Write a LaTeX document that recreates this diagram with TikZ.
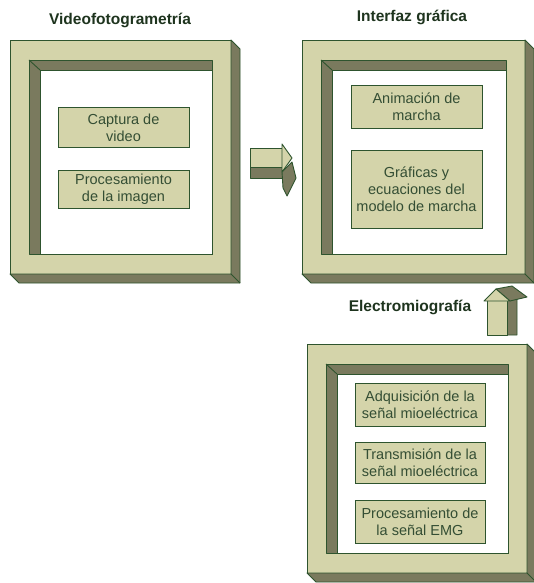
\documentclass[tikz,border=0pt]{standalone}
\usepackage{fontspec}
\setmainfont{Liberation Sans}
\usepackage{tikz}
\usepackage{xcolor}
\usetikzlibrary{calc}
\usetikzlibrary{positioning}

\definecolor{caqui}{RGB}{212,212,170}
\definecolor{sombra}{RGB}{122,122,94}
\definecolor{borde}{RGB}{46,84,46}
\definecolor{letra}{RGB}{52,78,52}
\definecolor{titulo}{RGB}{30,52,30}

\begin{document}
\begin{tikzpicture}[x=1pt,y=-1pt]
        \tikzstyle{marco}=[rectangle,draw=borde,line width=0.9pt,fill=caqui,outer sep=0pt,inner sep=0pt]
        \tikzstyle{caja}=[rectangle,draw=borde,line width=1pt,fill=caqui,text=letra,align=center,
                          inner sep=0pt,font=\fontsize{14.5}{17}\selectfont]
        \tikzstyle{titulo}=[text=titulo,font=\fontsize{15.5}{18}\selectfont\bfseries]
        \tikzstyle{cara}=[fill=sombra,draw=borde,line width=0.9pt,line join=round]
        \tikzstyle{frente}=[fill=caqui,draw=borde,line width=0.9pt,line join=round]
        \useasboundingbox (0,0) rectangle (534,583);
        \fill[white] (0,0) rectangle (534,583);
       % marcos
       \begin{scope}
         \node [marco,minimum width=221pt,minimum height=234pt] (vf) at (120.5,157) {};
         \node [marco,minimum width=223pt,minimum height=234pt] (ig) at (413.5,157) {};
         \node [marco,minimum width=220pt,minimum height=229pt] (emg) at (417,458.5) {};
         \foreach \m in {vf,ig,emg} {
           \path[cara] (\m.north east) -- ++(9,9) -- ($(\m.south east)+(9,9)$)
                 -- ($(\m.south west)+(9,9)$) -- (\m.south west) -- (\m.south east) -- cycle;
           \draw[borde,line width=0.9pt] (\m.south east) -- ++(9,9);
           \path[cara] ($(\m.north west)+(19,20)$) rectangle ($(\m.south east)+(-19,-20)$);
           \path[fill=white,draw=borde,line width=0.9pt] ($(\m.north west)+(30,30)$)
                 -| ($(\m.south east)+(-19,-20)$) -| cycle;
           \draw[borde,line width=0.9pt] ($(\m.north west)+(19,20)$) -- ($(\m.north west)+(30,30)$);
         }
       \end{scope}
       % titulos
       \node [titulo] (tvf) at (120,20) {Videofotogrametría};
       \node [titulo] (tig) at (412,17) {Interfaz gráfica};
       \node [titulo] (temg) at (410,307) {Electromiografía};
       % cajas
       \node [caja,minimum width=131pt,minimum height=39pt] (cap) at (123.5,127.5) {Captura de\\video};
       \node [caja,minimum width=131pt,minimum height=38pt] (img) at (123.5,189) {Procesamiento\\de la imagen};
       \node [caja,minimum width=131pt,minimum height=42pt] (ani) at (416.5,107) {Animación de\\marcha};
       \node [caja,minimum width=131pt,minimum height=78pt] (gra) at (416.5,189) {Gráficas y\\ecuaciones del\\modelo de marcha};
       \node [caja,minimum width=130pt,minimum height=43pt] (adq) at (420,404.5) {Adquisición de la\\señal mioeléctrica};
       \node [caja,minimum width=130pt,minimum height=41pt] (tra) at (420,462.5) {Transmisión de la\\señal mioeléctrica};
       \node [caja,minimum width=130pt,minimum height=43pt] (pro) at (420,521.5) {Procesamiento de\\la señal EMG};
       % flechas
       \coordinate (fd) at (250,148);
       \coordinate (fs) at (487,335);
       \path[cara] (fd) ++(0,19) rectangle ++(32,11);
       \path[frente] (fd) rectangle ++(32,19);
       \path[cara] (fd) ++(32,24) -- ++(10,-10) -- ++(4,16) -- ++(-9,18) -- ++(-4,-8) -- cycle;
       \path[frente] (fd) ++(32,-4) -- ++(10,14) -- ++(-10,14) -- cycle;
       \path[cara] (fs) ++(20,0) -- ++(0,-35) -- ++(10,-4) -- ++(0,39) -- cycle;
       \path[frente] (fs) rectangle ++(20,-35);
       \path[cara] (fs) ++(9,-46) -- ++(16,-3) -- ++(15,11) -- ++(-17,4) -- cycle;
       \path[frente] (fs) ++(-3,-34) -- ++(12,-12) -- ++(14,12) -- cycle;
\end{tikzpicture}
\end{document}
